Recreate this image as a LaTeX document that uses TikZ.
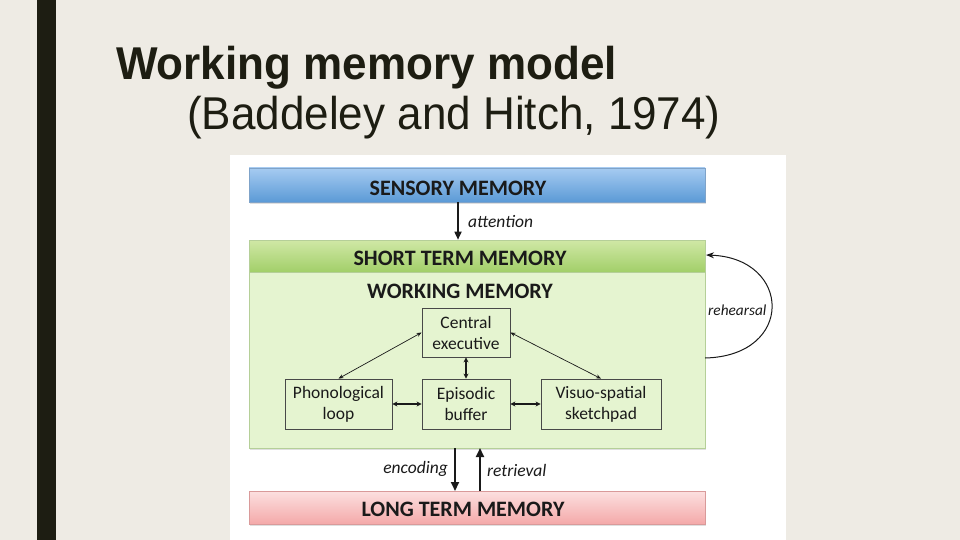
\documentclass[tikz,border=0pt]{standalone}
\usepackage{fontspec}
\setmainfont{Carlito}
\newfontfamily\titlefont[FakeStretch=0.957]{Liberation Sans}
\usetikzlibrary{arrows.meta,shadows}
\definecolor{bg}{HTML}{EEEBE4}
\definecolor{barc}{HTML}{1D1D12}
\definecolor{blueT}{HTML}{A6CBF1}
\definecolor{blueB}{HTML}{5B9AD6}
\definecolor{blueE}{HTML}{7FA3C9}
\definecolor{grnT}{HTML}{D0E8A6}
\definecolor{grnB}{HTML}{A2CF69}
\definecolor{grnBody}{HTML}{E5F4D0}
\definecolor{grnE}{HTML}{B5CF98}
\definecolor{pinkT}{HTML}{FCE0E0}
\definecolor{pinkB}{HTML}{F4A9A9}
\definecolor{pinkE}{HTML}{D99A9A}
\definecolor{ink}{HTML}{1A1A1A}
\tikzset{
  bandbox/.style={draw, line width=0.6pt, minimum width=456pt, inner sep=0pt,
    drop shadow={shadow xshift=1pt, shadow yshift=-1.5pt, opacity=0.25}},
  bandtext/.style={font=\bfseries\fontsize{22}{24}\selectfont, text=ink, inner sep=0pt},
  wmbox/.style={draw=ink!80, line width=0.8pt, fill=grnBody, inner sep=0pt, align=center,
    font=\fontsize{17.5}{21}\selectfont, text=ink},
  lbl/.style={font=\itshape\fontsize{17.5}{19}\selectfont, text=ink, inner sep=0pt},
  thinarr/.style={{Stealth[length=5pt,width=4pt]}-{Stealth[length=5pt,width=4pt]}, line width=0.7pt, ink},
  medarr/.style={{Stealth[length=5pt,width=5pt]}-{Stealth[length=5pt,width=5pt]}, line width=1.3pt, ink},
  bigarr/.style={-{Triangle[length=9pt,width=8pt]}, line width=2pt, ink},
}
\begin{document}
\begin{tikzpicture}[x=1pt,y=-1pt]
\fill[bg] (0,0) rectangle (960,540);
\useasboundingbox (0,0) rectangle (960,540);
\fill[barc] (37,0) rectangle (56,540);
\node[anchor=base west, inner sep=0pt, text=barc, font=\titlefont\bfseries\fontsize{46}{50}\selectfont] (title) at (116,80) {Working memory model};
\node[anchor=base west, inner sep=0pt, text=barc, font=\titlefont\fontsize{46}{50}\selectfont] (subtitle) at (187,130) {(Baddeley and Hitch, 1974)};
\fill[white] (230,155) rectangle (786,540);

% sensory memory
\node[bandbox, draw=blueE, top color=blueT, bottom color=blueB, minimum height=34pt] (sensory) at (477,185) {};
\node[bandtext] (sensorytxt) at (458,188) {SENSORY MEMORY};

% short term memory
\node[bandbox, draw=grnE, fill=grnBody, minimum height=208pt] (stm) at (477,344) {};
\node[draw=grnE, line width=0.6pt, minimum width=456pt, minimum height=32pt, inner sep=0pt, top color=grnT, bottom color=grnB] (stmhead) at (477,256) {};
\node[bandtext] (stmtxt) at (460,258) {SHORT TERM MEMORY};
\node[bandtext] (wmtxt) at (460,291) {WORKING MEMORY};

% long term memory
\node[bandbox, draw=pinkE, top color=pinkT, bottom color=pinkB, minimum height=33pt] (ltm) at (477,507.5) {};
\node[bandtext] (ltmtxt) at (463,509) {LONG TERM MEMORY};

% working memory components
\node[wmbox, minimum width=88pt, minimum height=49pt] (ce) at (466,332.5) {Central\\executive};
\node[wmbox, minimum width=107pt, minimum height=50pt] (pl) at (338.5,404) {Phonological\\loop};
\node[wmbox, minimum width=88pt, minimum height=50pt] (eb) at (466,404) {Episodic\\buffer};
\node[wmbox, minimum width=120pt, minimum height=50pt] (vs) at (601,404) {Visuo-spatial\\sketchpad};

\draw[thinarr] (ce.west) -- (pl.north);
\draw[thinarr] (ce.east) -- (vs.north);
\draw[medarr] (ce.south) -- (eb.north);
\draw[medarr] (pl.east) -- (eb.west);
\draw[medarr] (eb.east) -- (vs.west);

% attention
\coordinate (attA) at (sensory.south -| sensorytxt);
\coordinate (attB) at (stmhead.north -| sensorytxt);
\draw[-{Triangle[length=8pt,width=7pt]}, line width=1.6pt, ink] (attA) -- (attB);
\node[lbl, anchor=west] (attlbl) at (468,222) {attention};

% rehearsal
\coordinate (rehA) at (705,358);
\coordinate (rehB) at (706,255);
\draw[-{Stealth[length=8pt,width=6pt]}, line width=1pt, ink] (rehA) .. controls (795,356) and (792,258) .. (rehB);
\node[lbl, anchor=west, font=\itshape\fontsize{15.3}{17}\selectfont] (rehlbl) at (708,310) {rehearsal};

% encoding / retrieval
\coordinate (encA) at (455,448);
\coordinate (encB) at (455,491);
\coordinate (retA) at (480,491);
\coordinate (retB) at (480,448);
\draw[bigarr] (encA) -- (encB);
\draw[bigarr] (retA) -- (retB);
\node[lbl, anchor=east] (enclbl) at (448,469) {encoding};
\node[lbl, anchor=west] (retlbl) at (487,470) {retrieval};
\end{tikzpicture}
\end{document}
